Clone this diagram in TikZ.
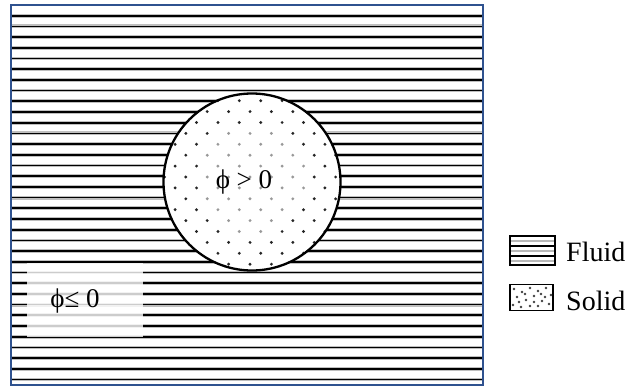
\documentclass[tikz,border=0pt]{standalone}
\usepackage{fontspec}
\setmainfont{Liberation Serif}
\definecolor{frameblue}{RGB}{47,82,143}
\tikzset{
  stripegrey/.style={gray!50, line width=3.8pt},
  stripecore/.style={black, line width=1.7pt},
  lbl/.style={inner sep=0pt, font=\fontsize{27}{31}\selectfont},
  keylbl/.style={inner sep=0pt, anchor=base west, font=\fontsize{28}{32}\selectfont},
}
\begin{document}
\begin{tikzpicture}[x=1pt,y=-1pt]
\useasboundingbox (0,0) rectangle (628,390);
\fill[white] (0,0) rectangle (628,390);
% fluid stripes
\begin{scope}
\clip (11,5) rectangle (483,385);
\foreach \k in {1,...,35} {
  \pgfmathsetmacro\yy{5+10.7*\k}
  \draw[stripegrey] (11,\yy) -- (483,\yy);
  \draw[stripecore] (11,\yy) -- (483,\yy);
}
\end{scope}
% solid disc
\node[circle, fill=white, minimum size=177pt, inner sep=0pt] (disc) at (252,182) {};
\begin{scope}
\clip (252,182) circle (88pt);
\foreach \r in {0,...,16} {
  \foreach \m in {-6,...,6} {
    \pgfmathsetmacro\yy{100.7+10.9*\r}
    \pgfmathsetmacro\xx{239.3+21.4*\m-10.7*mod(\r,2)}
    \pgfmathsetmacro\dd{veclen(\xx-252,\yy-182)}
    \pgfmathtruncatemacro\cc{\dd<55 ? 40 : 85}
    \fill[black!\cc] (\xx,\yy) circle (1.6pt);
  }
}
\end{scope}
\draw[line width=2.3pt] (252,182) circle (88.5pt);
\node[lbl, anchor=base] (gt) at (244,188) {ϕ > 0};
% phi <= 0 box
\node[fill=white, fill opacity=0.8, minimum width=116pt, minimum height=74pt, inner sep=0pt] (lebox) at (85,300) {};
\node[lbl, anchor=base] (le) at (75,307) {ϕ≤ 0};
% frame
\draw[frameblue, line width=2.6pt] (11,5) rectangle (483,385);
% legend: fluid
\node[minimum width=45pt, minimum height=29pt, inner sep=0pt] (fluidkey) at (532.5,250.5) {};
\foreach \yy in {241,251,261} {
  \draw[gray!55, line width=1.8pt] (510,\yy) -- (555,\yy);
}
\foreach \yy in {246,256} {
  \draw[black, line width=1.5pt] (510,\yy) -- (555,\yy);
}
\draw[line width=1.8pt] (fluidkey.south west) rectangle (fluidkey.north east);
\node[keylbl] (fluidtxt) at (566,261) {Fluid};
% legend: solid
\node[draw, line width=1.3pt, fill=white, minimum width=43pt, minimum height=26pt, inner sep=0pt] (solidkey) at (531.5,297.5) {};
\foreach \px/\py in {514/289,522/292,530/288,538/291,546/288,551/295,517/297,526/300,534/296,542/301,549/304,513/305,521/307,530/306,538/306,545/297,525/294,541/294,519/302,534/302} {
  \fill[black!75] (\px,\py) circle (1.4pt);
}
\node[keylbl] (solidtxt) at (566,310) {Solid};
\end{tikzpicture}
\end{document}
